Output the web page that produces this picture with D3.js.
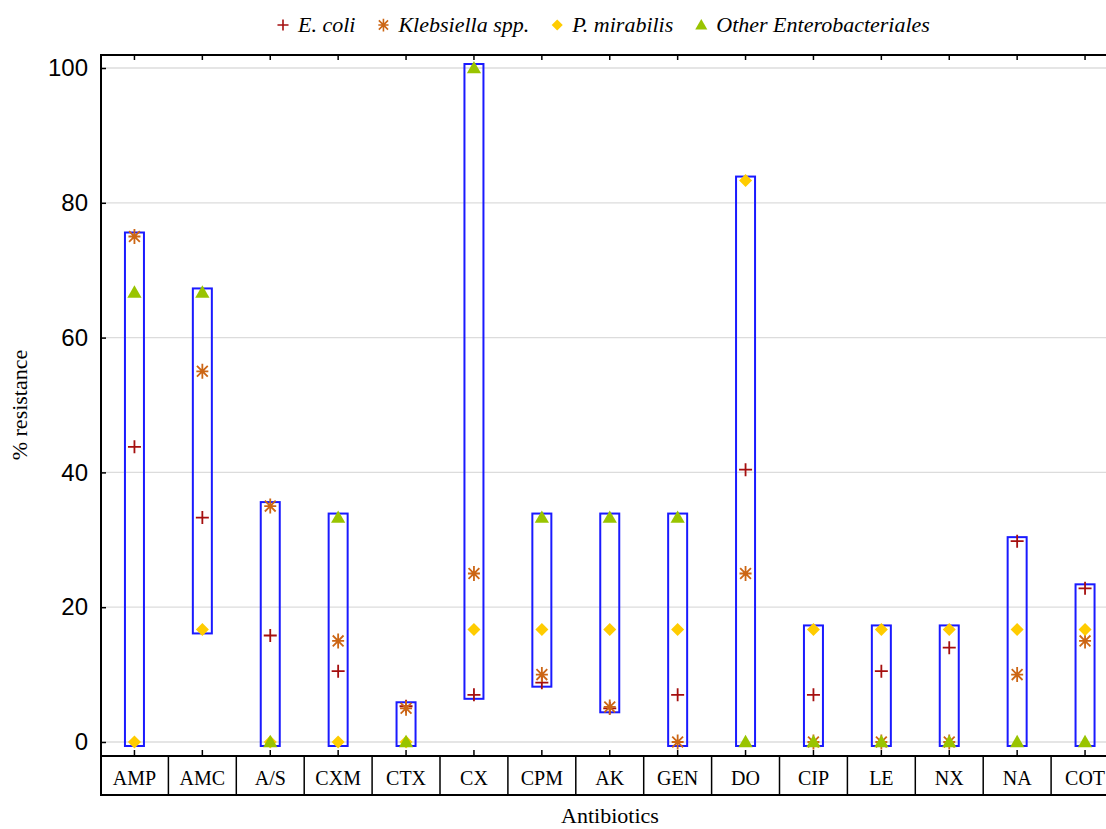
<!DOCTYPE html>
<html>
<head>
<meta charset="utf-8">
<script src="https://cdn.jsdelivr.net/npm/d3@7"></script>
<style>
  body { margin: 0; background: #fff; }
  svg { display: block; }
</style>
</head>
<body>
<div id="chart"></div>
<script>
/* DATA */
const antibiotics = ["AMP", "AMC", "A/S", "CXM", "CTX", "CX", "CPM", "AK", "GEN", "DO", "CIP", "LE", "NX", "NA", "COT"];
const eColi      = [43.8, 33.3, 15.8, 10.5, 5.3, 7.0, 8.8, 5.0, 7.0, 40.4, 7.0, 10.5, 14.0, 29.8, 22.8];
const klebsiella = [75.0, 55.0, 35.0, 15.0, 5.0, 25.0, 10.0, 5.2, 0, 25.0, 0, 0, 0, 10.0, 15.0];
const pMirabilis = [0, 16.7, 0, 0, 0, 16.7, 16.7, 16.7, 16.7, 83.3, 16.7, 16.7, 16.7, 16.7, 16.7];
const otherEnt   = [66.7, 66.7, 0, 33.3, 0, 100, 33.3, 33.3, 33.3, 0, 0, 0, 0, 0, 0];
const yTicks = [0, 20, 40, 60, 80, 100];
const seriesNames = ["E. coli", "Klebsiella spp.", "P. mirabilis", "Other Enterobacteriales"];

/* CONSTANTS */
const width = 1106, height = 829;
const plot = { left: 101, right: 1119, top: 55, bottom: 755, band: 795 };
const serif = "'Liberation Serif', 'Times New Roman', serif";
const sans = "'Liberation Sans', Arial, sans-serif";

// custom marker shapes for d3.symbol
const plusSym = {
  draw(ctx, size) {
    const r = size;
    ctx.moveTo(-r, 0); ctx.lineTo(r, 0);
    ctx.moveTo(0, -r); ctx.lineTo(0, r);
  }
};
const starSym = {
  draw(ctx, size) {
    const r = size, d = size * 0.72;
    ctx.moveTo(0, -r); ctx.lineTo(0, r);
    ctx.moveTo(-d, -d); ctx.lineTo(d, d);
    ctx.moveTo(-d, d); ctx.lineTo(d, -d);
    ctx.moveTo(-r * 0.8, 0); ctx.lineTo(r * 0.8, 0);
  }
};
const diamondSym = {
  draw(ctx, size) {
    ctx.moveTo(0, -size); ctx.lineTo(size, 0); ctx.lineTo(0, size); ctx.lineTo(-size, 0); ctx.closePath();
  }
};
const triSym = {
  draw(ctx, size) {
    ctx.moveTo(0, -size * 0.95); ctx.lineTo(size * 0.95, size * 0.7); ctx.lineTo(-size * 0.95, size * 0.7); ctx.closePath();
  }
};

const series = [
  { name: seriesNames[0], values: eColi, type: plusSym, size: 6.5, color: "#a50f0f", fill: false },
  { name: seriesNames[1], values: klebsiella, type: starSym, size: 7.5, color: "#cc6615", fill: false },
  { name: seriesNames[2], values: pMirabilis, type: diamondSym, size: 6.5, color: "#ffcc00", fill: true },
  { name: seriesNames[3], values: otherEnt, type: triSym, size: 7.5, color: "#99c400", fill: true }
];

/* SCALES */
const x = d3.scaleBand().domain(antibiotics).range([plot.left - 0.5, plot.right]).padding(0);
const y = d3.scaleLinear().domain([-1.93, 101.93]).range([plot.bottom, plot.top]);

const svg = d3.select("#chart").append("svg")
  .attr("width", width)
  .attr("height", height)
  .style("overflow", "hidden");

// gridlines
svg.append("g")
  .selectAll("line")
  .data(yTicks)
  .join("line")
  .attr("x1", plot.left).attr("x2", plot.right)
  .attr("y1", d => y(d)).attr("y2", d => y(d))
  .attr("stroke", "#dcdcdc")
  .attr("stroke-width", 1.3);

// y axis (ticks inward)
const yAxis = svg.append("g")
  .attr("transform", `translate(${plot.left},0)`)
  .call(d3.axisLeft(y).tickValues(yTicks).tickSize(-5).tickPadding(13));
yAxis.select(".domain").remove();
yAxis.selectAll(".tick line").attr("stroke", "#000").attr("stroke-width", 1.5);
yAxis.selectAll("text").attr("font-family", sans).attr("font-size", 24).attr("fill", "#000");

// top ticks (inward)
const topAxis = svg.append("g")
  .attr("transform", `translate(0,${plot.top})`)
  .call(d3.axisTop(x).tickSize(-5).tickFormat(""));
topAxis.select(".domain").remove();
topAxis.selectAll(".tick line").attr("stroke", "#000").attr("stroke-width", 1.5);

// bottom category axis
const botAxis = svg.append("g")
  .attr("transform", `translate(0,${plot.bottom})`)
  .call(d3.axisBottom(x).tickSize(-5).tickPadding(16));
botAxis.select(".domain").remove();
botAxis.selectAll(".tick line").attr("stroke", "#000").attr("stroke-width", 1.5);
botAxis.selectAll("text").attr("font-family", serif).attr("font-size", 20).attr("fill", "#000");

// category band
svg.append("rect")
  .attr("x", plot.left).attr("y", plot.bottom + 1)
  .attr("width", plot.right - plot.left).attr("height", plot.band - plot.bottom - 1)
  .attr("fill", "none").attr("stroke", "#000").attr("stroke-width", 2);
svg.append("g")
  .selectAll("line")
  .data(antibiotics.slice(1))
  .join("line")
  .attr("x1", d => x(d)).attr("x2", d => x(d))
  .attr("y1", plot.bottom + 1).attr("y2", plot.band)
  .attr("stroke", "#000").attr("stroke-width", 1.5);

// frame
svg.append("path")
  .attr("d", `M${plot.left},${plot.band}V${plot.top}H${plot.right}V${plot.bottom}`)
  .attr("fill", "none").attr("stroke", "#000").attr("stroke-width", 2);

// range boxes
const boxW = 19;
svg.append("g")
  .selectAll("rect")
  .data(antibiotics)
  .join("rect")
  .attr("x", d => x(d) + x.bandwidth() / 2 - boxW / 2)
  .attr("y", (d, i) => y(d3.max(series, s => s.values[i])) - 4)
  .attr("width", boxW)
  .attr("height", (d, i) => y(d3.min(series, s => s.values[i])) - y(d3.max(series, s => s.values[i])) + 8)
  .attr("fill", "none")
  .attr("stroke", "#1a1aff")
  .attr("stroke-width", 2);

// markers
series.forEach(s => {
  svg.append("g")
    .selectAll("path")
    .data(antibiotics)
    .join("path")
    .attr("transform", (d, i) => `translate(${x(d) + x.bandwidth() / 2},${y(s.values[i])})`)
    .attr("d", d3.symbol(s.type, s.size))
    .attr("fill", s.fill ? s.color : "none")
    .attr("stroke", s.fill ? "none" : s.color)
    .attr("stroke-width", 1.8);
});

// legend
const legend = svg.append("g").attr("transform", "translate(0,25)");
let lx = 283;
series.forEach(s => {
  legend.append("path")
    .attr("transform", `translate(${lx},0)`)
    .attr("d", d3.symbol(s.type, s.size * 0.85))
    .attr("fill", s.fill ? s.color : "none")
    .attr("stroke", s.fill ? "none" : s.color)
    .attr("stroke-width", 1.6);
  const t = legend.append("text")
    .attr("x", lx + 15)
    .attr("y", 7)
    .attr("font-family", serif)
    .attr("font-style", "italic")
    .attr("font-size", 22)
    .text(s.name);
  lx += 15 + t.node().getComputedTextLength() + 28;
});

// axis titles
svg.append("text")
  .attr("transform", `translate(27,405) rotate(-90)`)
  .attr("text-anchor", "middle")
  .attr("font-family", serif)
  .attr("font-size", 22)
  .text("% resistance");

svg.append("text")
  .attr("x", 610)
  .attr("y", 823)
  .attr("text-anchor", "middle")
  .attr("font-family", serif)
  .attr("font-size", 22)
  .text("Antibiotics");
</script>
</body>
</html>
